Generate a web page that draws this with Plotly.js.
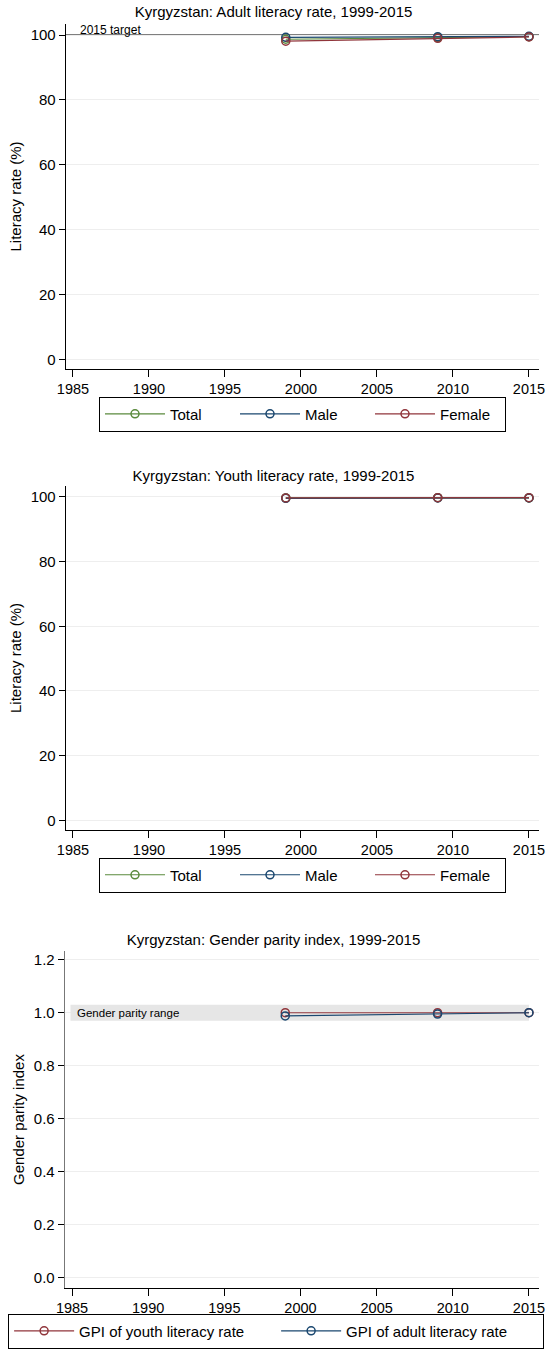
<!DOCTYPE html>
<html>
<head>
<meta charset="utf-8">
<script src="https://cdn.plot.ly/plotly-3.0.1.min.js"></script>
<style>
body{margin:0;padding:0;background:#fff;}
.c{position:absolute;left:0;width:547px;}
</style>
</head>
<body>
<div id="c1" class="c" style="top:0;height:460px;"></div>
<div id="c2" class="c" style="top:460px;height:460px;"></div>
<div id="c3" class="c" style="top:920px;height:437px;"></div>
<script>
const years = [1999, 2009, 2015];
const adultTotal = [98.7, 99.2, 99.5];
const adultMale = [99.3, 99.5, 99.6];
const adultFemale = [98.1, 99.0, 99.4];
const youthTotal = [99.7, 99.8, 99.7];
const youthMale = [99.6, 99.7, 99.7];
const youthFemale = [99.7, 99.8, 99.8];
const gpiYouth = [1.00, 1.00, 1.00];
const gpiAdult = [0.988, 0.995, 1.00];
const xTicks = [1985, 1990, 1995, 2000, 2005, 2010, 2015];
const litTicks = [0, 20, 40, 60, 80, 100];
const gpiTicks = [0, 0.2, 0.4, 0.6, 0.8, 1.0, 1.2];
const targetValue = 100;
const parityLow = 0.97, parityHigh = 1.03;

const GREEN = '#5a8a3c', NAVY = '#1a476f', MAROON = '#90353b';
const FONT = '"Liberation Sans", Arial, sans-serif';
const FS = 15;

function tr(y, name, color) {
  return {x: years, y: y, name: name, type: 'scatter', mode: 'lines+markers',
    line: {color: color, width: 1.2},
    marker: {symbol: 'circle-open', size: 8, color: color, line: {width: 1.5, color: color}}};
}

function xaxis() {
  return {range: [1984.54, 2015.66], tickvals: xTicks, ticks: 'outside', ticklen: 7,
    tickcolor: '#000', showline: true, linecolor: '#000', linewidth: 1, showgrid: false,
    zeroline: false, tickfont: {size: 14.5, color: '#000'}, ticklabeloverflow: 'allow', fixedrange: true};
}

function yaxis(range, ticks, fmt, title, lc) {
  return {range: range, tickvals: ticks, tickformat: fmt, ticks: 'outside', ticklen: 6,
    tickcolor: '#000', showline: true, linecolor: lc, linewidth: 1.3, showgrid: true,
    gridcolor: '#eeeeee', gridwidth: 1, zeroline: false, tickfont: {size: FS, color: '#000'},
    title: {text: title, font: {size: FS, color: '#000'}, standoff: 5}, fixedrange: true};
}

function base(title, h, top, bottom, titleY, legendY, entryW, left) {
  return {
    width: 547, height: h,
    margin: {l: left, r: 8, t: top, b: bottom},
    paper_bgcolor: '#fff', plot_bgcolor: '#fff',
    font: {family: FONT, color: '#000', size: FS},
    title: {text: title, font: {size: FS, color: '#000'}, x: 0.5, xref: 'container', xanchor: 'center',
      y: 1 - titleY / h, yanchor: 'middle', yref: 'container'},
    showlegend: true,
    legend: {orientation: 'h', x: 0.5, xanchor: 'center', y: legendY, yanchor: 'top',
      bordercolor: '#000', borderwidth: 1, font: {size: FS, color: '#000'},
      entrywidth: entryW, entrywidthmode: 'pixels', itemwidth: 60,
      itemclick: false, itemdoubleclick: false, tracegroupgap: 0}
  };
}

// Chart 1
const l1 = base('Kyrgyzstan: Adult literacy rate, 1999-2015', 460, 24, 91, 12, -0.08, 60, 66);
l1.xaxis = xaxis();
l1.yaxis = yaxis([-3.0, 103.4], litTicks, 'd', 'Literacy rate (%)', '#000');
l1.shapes = [{type: 'line', xref: 'paper', x0: 0, x1: 1, yref: 'y', y0: targetValue, y1: targetValue,
  line: {color: '#000', width: 1.2}, layer: 'between'}];
l1.annotations = [{x: 1985.3, y: targetValue, xref: 'x', yref: 'y', text: '2015 target', showarrow: false,
  xanchor: 'left', yanchor: 'bottom', yshift: -4, font: {size: 12, color: '#000'}}];
Plotly.newPlot('c1', [tr(adultTotal, 'Total', GREEN), tr(adultMale, 'Male', NAVY), tr(adultFemale, 'Female', MAROON)], l1, {staticPlot: true});

// Chart 2
const l2 = base('Kyrgyzstan: Youth literacy rate, 1999-2015', 460, 26, 90, 16, -0.08, 60, 66);
l2.xaxis = xaxis();
l2.yaxis = yaxis([-3.0, 103.4], litTicks, 'd', 'Literacy rate (%)', '#000');
Plotly.newPlot('c2', [tr(youthTotal, 'Total', GREEN), tr(youthMale, 'Male', NAVY), tr(youthFemale, 'Female', MAROON)], l2, {staticPlot: true});

// Chart 3
const l3 = base('Kyrgyzstan: Gender parity index, 1999-2015', 437, 31, 63, 20, -0.076, 192, 64);
l3.xaxis = xaxis();
l3.yaxis = yaxis([-0.039, 1.233], gpiTicks, '.1f', 'Gender parity index', '#777');
l3.legend.x = -0.12; l3.legend.xanchor = 'left';
l3.shapes = [{type: 'rect', xref: 'x', x0: 1984.9, x1: 2015.0, yref: 'y', y0: parityLow, y1: parityHigh,
  fillcolor: '#e6e6e6', line: {width: 0}, layer: 'between'}];
l3.annotations = [{x: 1985.2, y: 1.0, xref: 'x', yref: 'y', text: 'Gender parity range', showarrow: false,
  xanchor: 'left', yanchor: 'middle', font: {size: 11.5, color: '#000'}}];
Plotly.newPlot('c3', [tr(gpiYouth, 'GPI of youth literacy rate', MAROON), tr(gpiAdult, 'GPI of adult literacy rate', NAVY)], l3, {staticPlot: true});
</script>
</body>
</html>
